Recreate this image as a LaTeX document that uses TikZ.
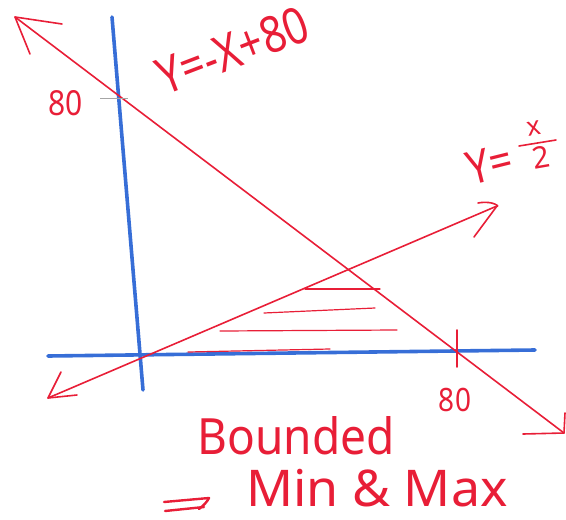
\documentclass[tikz,border=0pt]{standalone}
\usepackage{fontspec}
\usepackage{graphicx}
\setmainfont{Noto Sans}
\begin{document}
\definecolor{penred}{RGB}{232,30,55}
\definecolor{penblue}{RGB}{55,110,215}
\begin{tikzpicture}[x=1pt,y=-1pt,
  axis/.style={draw=penblue,line width=3.6pt,line cap=round},
  redline/.style={draw=penred,line width=1.6pt,line cap=round,line join=round},
  hatch/.style={draw=penred,line width=1.2pt,line cap=round},
  penstroke/.style={draw=penred,line width=2.4pt,line cap=round,line join=round},
  lbl/.style={text=penred,inner sep=0pt}]
\useasboundingbox (0,0) rectangle (566,520);
% named points
\coordinate (yT) at (112,17);
\coordinate (yB) at (143,390);
\coordinate (xL) at (48,356);
\coordinate (xR) at (535,350);
\coordinate (aT) at (15,17);
\coordinate (aB) at (564,433);
\coordinate (bL) at (48,398);
\coordinate (bR) at (497,206);
% axes
\draw[axis] (yT) -- (yB);
\draw[axis] (xL) -- (xR);
% red lines
\draw[redline] (aT) -- (aB);
\draw[redline] (bL) -- (bR);
% arrowheads
\draw[redline] (62,24) -- (aT) -- (30,54);
\draw[redline] (523,434) -- (aB) -- (565,413);
\draw[redline] (61,372) -- (bL) -- (77,395);
\draw[redline] (478,203) .. controls (495,200) and (500,208) .. (bR) -- (474,237);
% ticks
\draw[draw=gray!70,line width=0.8pt] (100,98) -- (128,98);
\draw[redline] (457,330) -- (457,367);
% hatching
\draw[hatch] (305,289) -- (380,289);
\draw[hatch] (264,313) -- (375,308);
\draw[hatch] (220,331) -- (397,330);
\draw[hatch] (188,352) -- (330,349);
% labels
\node[lbl,font=\fontsize{30}{30}\selectfont] (l80a) at (66,103) {\scalebox{1}[1.15]{80}};
\node[lbl,font=\fontsize{42}{42}\selectfont,rotate=21] (eq1) at (233,50) {\scalebox{1}[1.2]{Y=-X+80}};
\node[lbl,font=\fontsize{40}{40}\selectfont,rotate=14] (eq2a) at (490,164) {\scalebox{1}[1.15]{Y=}};
\node[lbl,font=\fontsize{26}{26}\selectfont,rotate=10] (eq2x) at (534,128) {x};
\node[lbl,font=\fontsize{30}{30}\selectfont,rotate=10] (eq2d) at (541,157) {2};
\draw[redline] (519,146) -- (556,140);
\node[lbl,font=\fontsize{28}{28}\selectfont] (l80b) at (455,400) {\scalebox{1}[1.15]{80}};
\node[lbl,font=\fontsize{40}{40}\selectfont] (bnd) at (296,436) {\scalebox{1.15}[1.25]{Bounded}};
% implies arrow
\coordinate (impA) at (164,502);
\coordinate (impB) at (165,511);
\draw[penstroke] (impA) -- (209,498) .. controls (207,502) and (204,505) .. (199,509);
\draw[penstroke] (impB) -- (204,507);
\node[lbl,font=\fontsize{44}{44}\selectfont] (mm) at (377,488) {\scalebox{1.18}[1.15]{Min \& Max}};
\end{tikzpicture}
\end{document}
